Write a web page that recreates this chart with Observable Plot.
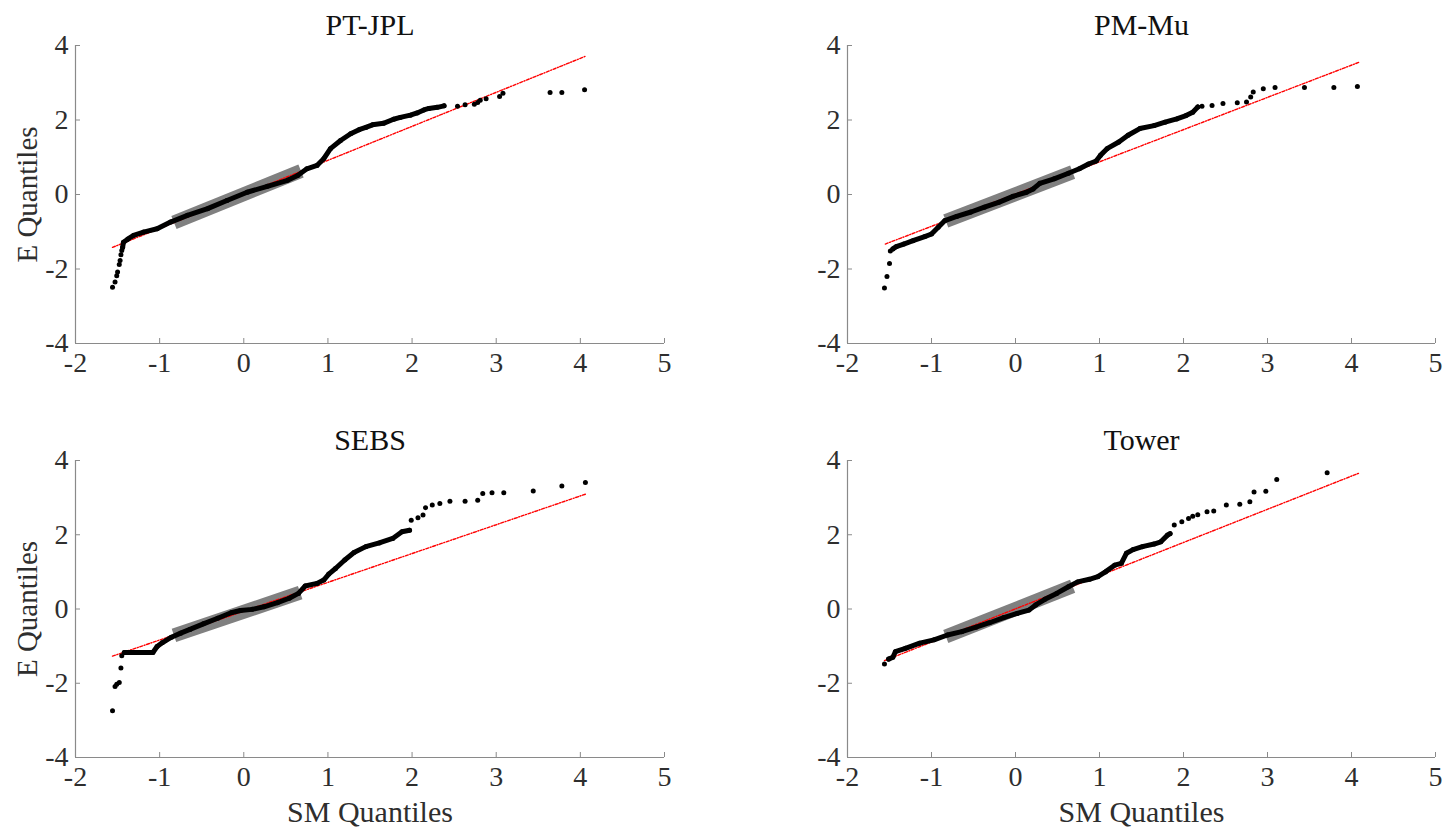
<!DOCTYPE html>
<html>
<head>
<meta charset="utf-8">
<script src="https://cdn.jsdelivr.net/npm/d3@7"></script>
<script src="https://cdn.jsdelivr.net/npm/@observablehq/plot@0.6"></script>
<style>
  body { margin: 0; background: #fff; }
  #wrap { position: relative; width: 1444px; height: 833px; overflow: hidden; background: #fff; }
  #wrap svg { position: absolute; }
  #wrap svg text { font-family: 'Liberation Serif', 'Times New Roman', Times, serif; }
</style>
</head>
<body>
<div id="wrap"></div>
<script>
// ---- axis ticks and labels ----
const xTicks = [-2, -1, 0, 1, 2, 3, 4, 5];
const yTicks = [-4, -2, 0, 2, 4];
const titles = ["PT-JPL", "PM-Mu", "SEBS", "Tower"];
const xLabel = "SM Quantiles";
const yLabel = "E Quantiles";

// ---- PT-JPL ----
const ptjplCurveSM = [-1.44,-1.43,-1.38,-1.31,-1.19,-1.03,-0.87,-0.67,-0.43,-0.20,0.04,0.28,0.52,0.64,0.75,0.87,0.95,1.03,1.15,1.27,1.37,1.45,1.53,1.66,1.78,1.86,1.98,2.06,2.14,2.20,2.30,2.38];
const ptjplCurveE  = [-1.42,-1.28,-1.20,-1.10,-1.01,-0.92,-0.74,-0.56,-0.38,-0.16,0.06,0.22,0.38,0.51,0.69,0.78,0.96,1.23,1.45,1.63,1.74,1.80,1.87,1.91,2.02,2.07,2.13,2.19,2.27,2.31,2.34,2.38];
const ptjplOutSM = [-1.56,-1.53,-1.51,-1.50,-1.48,-1.47,-1.46,-1.45,2.54,2.63,2.74,2.78,2.81,2.88,3.04,3.08,3.64,3.78,4.05];
const ptjplOutE  = [-2.49,-2.35,-2.18,-2.08,-1.88,-1.77,-1.62,-1.50,2.37,2.41,2.42,2.47,2.53,2.57,2.63,2.72,2.74,2.74,2.81];
const ptjplRefSM = [-1.56, 4.06];
const ptjplRefE  = [-1.42, 3.71];
const ptjplIqrSM = [-0.83, 0.68];
const ptjplIqrE  = [-0.75, 0.63];

// ---- PM-Mu ----
const pmmuCurveSM = [-1.46,-1.42,-1.33,-1.22,-1.08,-1.00,-0.92,-0.84,-0.70,-0.53,-0.37,-0.20,-0.03,0.13,0.21,0.29,0.46,0.63,0.76,0.87,0.96,1.01,1.09,1.23,1.34,1.48,1.65,1.78,1.92,2.03,2.11,2.17];
const pmmuCurveE  = [-1.46,-1.40,-1.33,-1.24,-1.13,-1.06,-0.88,-0.70,-0.59,-0.47,-0.34,-0.21,-0.05,0.06,0.15,0.30,0.42,0.57,0.69,0.82,0.90,1.05,1.23,1.41,1.59,1.77,1.85,1.94,2.03,2.12,2.21,2.35];
const pmmuOutSM = [-1.56,-1.53,-1.50,-1.49,2.22,2.34,2.47,2.64,2.75,2.80,2.83,2.95,3.09,3.44,3.79,4.07];
const pmmuOutE  = [-2.51,-2.20,-1.85,-1.52,2.37,2.39,2.44,2.46,2.48,2.62,2.75,2.84,2.87,2.87,2.87,2.90];
const pmmuRefSM = [-1.55, 4.09];
const pmmuRefE  = [-1.33, 3.55];
const pmmuIqrSM = [-0.83, 0.68];
const pmmuIqrE  = [-0.71, 0.60];

// ---- SEBS ----
const sebsCurveSM = [-1.42,-1.30,-1.20,-1.08,-1.03,-0.97,-0.86,-0.75,-0.64,-0.48,-0.31,-0.15,-0.04,0.10,0.24,0.40,0.54,0.65,0.73,0.87,0.95,1.01,1.09,1.20,1.31,1.45,1.61,1.77,1.88,1.97];
const sebsCurveE  = [-1.17,-1.17,-1.17,-1.17,-1.01,-0.91,-0.76,-0.65,-0.55,-0.40,-0.25,-0.10,-0.04,-0.01,0.06,0.17,0.29,0.42,0.62,0.69,0.78,0.94,1.09,1.32,1.52,1.68,1.78,1.90,2.08,2.12];
const sebsOutSM = [-1.56,-1.53,-1.51,-1.48,-1.46,-1.45,1.99,2.07,2.13,2.16,2.24,2.33,2.45,2.63,2.78,2.84,2.95,3.09,3.44,3.78,4.06];
const sebsOutE  = [-2.74,-2.09,-2.03,-1.98,-1.59,-1.26,2.39,2.46,2.53,2.73,2.80,2.84,2.90,2.90,2.93,3.11,3.13,3.13,3.18,3.31,3.41];
const sebsRefSM = [-1.56, 4.07];
const sebsRefE  = [-1.27, 3.10];
const sebsIqrSM = [-0.83, 0.67];
const sebsIqrE  = [-0.71, 0.44];

// ---- Tower ----
const towerCurveSM = [-1.51,-1.46,-1.43,-1.31,-1.14,-0.97,-0.81,-0.64,-0.47,-0.31,-0.14,0.02,0.16,0.24,0.35,0.49,0.63,0.74,0.88,0.98,1.07,1.18,1.26,1.32,1.40,1.51,1.65,1.73,1.81,1.84];
const towerCurveE  = [-1.35,-1.30,-1.15,-1.06,-0.92,-0.83,-0.70,-0.61,-0.49,-0.37,-0.23,-0.12,-0.03,0.11,0.26,0.42,0.60,0.73,0.80,0.87,1.00,1.18,1.23,1.50,1.60,1.68,1.75,1.81,1.99,2.03];
const towerOutSM = [-1.56,1.89,1.98,2.06,2.11,2.17,2.28,2.36,2.51,2.67,2.79,2.84,2.98,3.11,3.71];
const towerOutE  = [-1.48,2.26,2.35,2.44,2.50,2.54,2.62,2.64,2.80,2.82,2.89,3.15,3.17,3.49,3.67];
const towerRefSM = [-1.56, 4.09];
const towerRefE  = [-1.39, 3.66];
const towerIqrSM = [-0.83, 0.68];
const towerIqrE  = [-0.74, 0.61];

// ---- drawing ----
const zip = (xs, ys) => xs.map((x, i) => ({x, y: ys[i]}));
const FONT = "'Liberation Serif', 'Times New Roman', Times, serif";
const AXIS_GRAY = "#8a8a8a";
const TEXT_GRAY = "#2e2e2e";

function panel(cfg) {
  const curve = zip(cfg.curveSM, cfg.curveE);
  const out = zip(cfg.outSM, cfg.outE);
  const ref = zip(cfg.refSM, cfg.refE);
  const iqr = zip(cfg.iqrSM, cfg.iqrE);
  const svg = Plot.plot({
    width: cfg.width,
    height: cfg.height,
    marginLeft: cfg.ml, marginRight: cfg.mr, marginTop: cfg.mt, marginBottom: cfg.mb,
    style: {fontFamily: FONT, background: "transparent", overflow: "visible"},
    x: {domain: [-2, 5]},
    y: {domain: [-4, 4]},
    marks: [
      Plot.line(iqr, {x: "x", y: "y", stroke: "#808080", strokeWidth: 14, strokeLinecap: "butt"}),
      Plot.line(ref, {x: "x", y: "y", stroke: "#ff0000", strokeWidth: 1.4, strokeDasharray: "3,1.6,1,1.6"}),
      Plot.line(curve, {x: "x", y: "y", stroke: "#000", strokeWidth: 5, strokeLinejoin: "round", strokeLinecap: "round"}),
      Plot.dot(curve, {x: "x", y: "y", r: 2.5, fill: "#000"}),
      Plot.dot(out, {x: "x", y: "y", r: 2.5, fill: "#000"}),
      Plot.ruleY([-4], {stroke: AXIS_GRAY, strokeWidth: 1.2}),
      Plot.ruleX([-2], {stroke: AXIS_GRAY, strokeWidth: 1.2}),
      Plot.axisX(xTicks, {tickSize: -5, tickPadding: 14, stroke: AXIS_GRAY, fill: TEXT_GRAY, fontSize: 28, fontFamily: FONT, tickFormat: d => String(d), label: null}),
      Plot.axisY(yTicks, {tickSize: -5, tickPadding: 12, stroke: AXIS_GRAY, fill: TEXT_GRAY, fontSize: 28, fontFamily: FONT, tickFormat: d => String(d), label: null}),
      Plot.text([cfg.title], {frameAnchor: "top", dy: -20, lineAnchor: "middle", fontSize: 30, fontFamily: FONT, fill: "#111", textAnchor: "middle"}),
      cfg.showY ? Plot.text([yLabel], {frameAnchor: "left", dx: -48, rotate: -90, lineAnchor: "middle", fontSize: 29, fontFamily: FONT, fill: TEXT_GRAY, textAnchor: "middle"}) : null,
      cfg.showX ? Plot.text([xLabel], {frameAnchor: "bottom", dy: 55, lineAnchor: "middle", fontSize: 30, fontFamily: FONT, fill: TEXT_GRAY, textAnchor: "middle"}) : null
    ]
  });
  svg.style.left = cfg.left + "px";
  svg.style.top = cfg.top + "px";
  document.getElementById("wrap").appendChild(svg);
}

panel({title: titles[0], curveSM: ptjplCurveSM, curveE: ptjplCurveE, outSM: ptjplOutSM, outE: ptjplOutE,
  refSM: ptjplRefSM, refE: ptjplRefE, iqrSM: ptjplIqrSM, iqrE: ptjplIqrE,
  showY: true, showX: false, left: 0, top: 0, width: 722, height: 416, ml: 75, mr: 58, mt: 45, mb: 73});
panel({title: titles[1], curveSM: pmmuCurveSM, curveE: pmmuCurveE, outSM: pmmuOutSM, outE: pmmuOutE,
  refSM: pmmuRefSM, refE: pmmuRefE, iqrSM: pmmuIqrSM, iqrE: pmmuIqrE,
  showY: false, showX: false, left: 722, top: 0, width: 722, height: 416, ml: 125, mr: 9, mt: 45, mb: 73});
panel({title: titles[2], curveSM: sebsCurveSM, curveE: sebsCurveE, outSM: sebsOutSM, outE: sebsOutE,
  refSM: sebsRefSM, refE: sebsRefE, iqrSM: sebsIqrSM, iqrE: sebsIqrE,
  showY: true, showX: true, left: 0, top: 416, width: 722, height: 417, ml: 75, mr: 58, mt: 44, mb: 76});
panel({title: titles[3], curveSM: towerCurveSM, curveE: towerCurveE, outSM: towerOutSM, outE: towerOutE,
  refSM: towerRefSM, refE: towerRefE, iqrSM: towerIqrSM, iqrE: towerIqrE,
  showY: false, showX: true, left: 722, top: 416, width: 722, height: 417, ml: 125, mr: 9, mt: 44, mb: 76});
</script>
</body>
</html>
